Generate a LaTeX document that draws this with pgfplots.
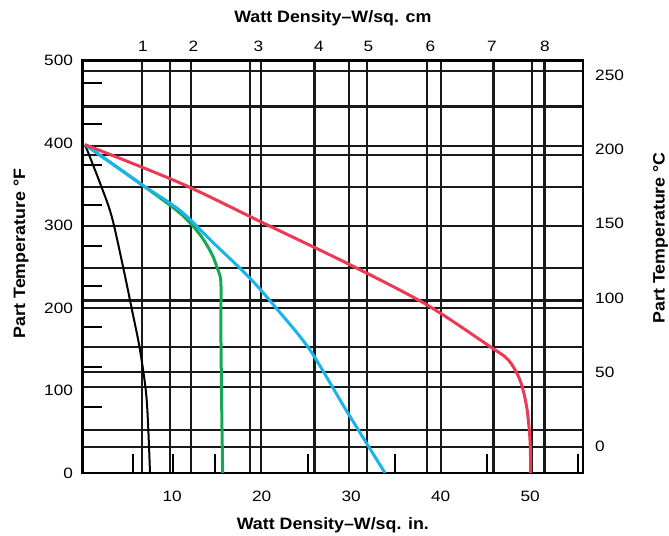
\documentclass[border=0pt]{standalone}
\usepackage{pgfplots}
\pgfplotsset{compat=1.18}
\usepackage{fontspec}
\setmainfont[FakeStretch=1.08]{Liberation Sans}
\newfontfamily\tickfont[FakeStretch=1.15]{Liberation Sans}
\definecolor{cRed}{HTML}{EC3A55}
\definecolor{cBlue}{HTML}{1AB4EC}
\definecolor{cGreen}{HTML}{14A854}

\tikzset{
  tl/.style={font=\tickfont\fontsize{15bp}{15bp}\selectfont, inner sep=0pt},
  al/.style={font=\fontsize{16.5bp}{16.5bp}\selectfont\bfseries, inner sep=0pt},
}
\pgfplotsset{
  base/.style={width=500.3bp, height=412.5bp, scale only axis,
    xmin=0, xmax=55.9, /pgf/number format/assume math mode=true},
}

\begin{document}
\begin{tikzpicture}
% grid, short ticks and curves (x in W/sq. in., y in deg F)
\begin{axis}[base, ymin=0, ymax=500,
  xtick={6.59,9.75,12.1,18.74,19.97,25.9,29.8,31.77,38.47,40.03,45.9,50.25,51.6},
  ytick={31.6,52.2,104.4,122.6,152.9,200.2,209.1,248.8,299.8,346.2,385.9,396.0,444.2,487.0},
  xticklabels={}, yticklabels={},
  minor xtick={5.59,10.13,14.75,25.15,34.93,45.12,55.34},
  minor ytick={80,128.5,177,226.7,275.2,324.8,373.3,423,472.7},
  xtick pos=bottom, ytick pos=left,
  tick align=inside,
  major tick length=0pt,
  minor tick length=19bp,
  grid=major,
  major grid style={line width=2.1bp, black!90},
  minor tick style={line width=2bp, black},
  axis line style={line width=2.6bp, black},
]
\addplot[black, line width=2bp, smooth] coordinates {
  (0.26,398) (1.93,351.6) (3.24,311) (4.54,248.4) (5.5,198)
  (6.4,149.3) (7.15,88.6) (7.52,0)};
\addplot[cGreen, line width=3bp, smooth, tension=0.5] coordinates {
  (0.26,398) (6.4,351) (10.87,315) (13.1,289) (14.4,266) (14.97,250.4)
  (15.42,234) (15.45,200) (15.45,161.4) (15.53,80.5) (15.64,0)};
\addplot[cBlue, line width=3bp, smooth, tension=0.5] coordinates {
  (0.26,398) (6.4,351) (10.9,318) (14.5,280) (18.7,236) (22,195)
  (25.4,149) (29.5,75) (33.78,0)};
\addplot[cRed, line width=3bp, smooth, tension=0.5] coordinates {
  (0.26,398) (10.87,351.6) (20.18,303) (29.87,252.4) (38.44,203.9)
  (45.5,153.3) (47.55,137.1) (48.85,112.9) (49.6,80.5) (49.98,40) (50.06,0)};
\coordinate (sw) at (rel axis cs:0,0);
\coordinate (ne) at (rel axis cs:1,1);
\end{axis}

% bottom and left labels
\begin{axis}[base, ymin=0, ymax=500,
  axis line style={draw=none},
  xtick={10,20,30,40,50}, ytick={0,100,...,500},
  xtick pos=bottom, ytick pos=left, major tick length=0pt,
  xticklabel style={tl, anchor=north, yshift=-18bp},
  yticklabel style={tl, anchor=east, xshift=-9.5bp},
  xlabel={Watt Density–W/sq. in.},
  xlabel style={al, at={(axis description cs:0.5,-0.138)}, anchor=base},
  ylabel={Part Temperature °F},
  ylabel style={al, at={(axis description cs:-0.1153,0.532)}, anchor=base},
]
\end{axis}

% top and right labels (W/sq. cm, deg C)
\begin{axis}[base, ymin=-17.78, ymax=260,
  axis line style={draw=none},
  xtick={6.74,12.38,19.64,26.4,31.93,38.86,45.72,51.65},
  xticklabels={1,2,3,4,5,6,7,8},
  ytick={0,50,...,250},
  xtick pos=top, ytick pos=right,
  xticklabel pos=top, yticklabel pos=right,
  major tick length=0pt,
  xticklabel style={tl, anchor=south, yshift=8.5bp},
  yticklabel style={tl, anchor=west, xshift=12bp},
  xlabel={Watt Density–W/sq. cm},
  xlabel style={al, at={(axis description cs:0.5,1.091)}, anchor=base},
  ylabel={Part Temperature °C},
  ylabel style={al, at={(axis description cs:1.163,0.570)}, anchor=base},
]
\end{axis}

\pgfresetboundingbox
\path ([shift={(-82.7bp,-63bp)}]sw) rectangle ([shift={(86bp,60.5bp)}]ne);
\end{tikzpicture}
\end{document}
